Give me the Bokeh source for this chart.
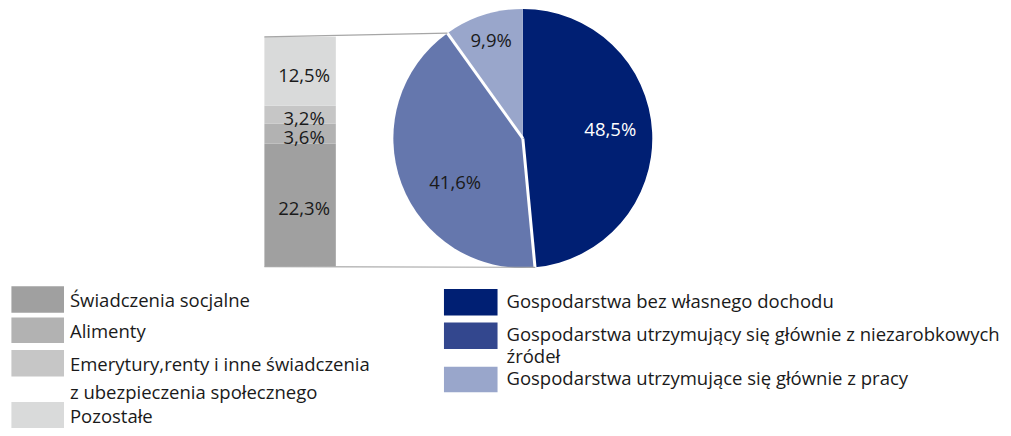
from bokeh.plotting import figure
from bokeh.models import Range1d
from bokeh.embed import file_html
from bokeh.resources import INLINE
from bokeh.core.properties import value
import numpy as np

# ---------------- data ----------------
pie_labels = ["Gospodarstwa bez własnego dochodu",
              "Gospodarstwa utrzymujący się głównie z niezarobkowych\nźródeł",
              "Gospodarstwa utrzymujące się głównie z pracy"]
pie_values = [48.5, 41.6, 9.9]

bar_labels = ["Świadczenia socjalne",
              "Alimenty",
              "Emerytury,renty i inne świadczenia\nz ubezpieczenia społecznego",
              "Pozostałe"]
bar_values = [22.3, 3.6, 3.2, 12.5]

# ---------------- style ----------------
pie_colors = ["#001F73", "#6577AD", "#99A6CB"]
pie_legend_colors = ["#001F73", "#33478E", "#99A6CB"]
pie_label_colors = ["white", "#1a1a1a", "#1a1a1a"]
pie_label_radius = [0.68, 0.62, 0.80]
pie_label_shift_deg = [4, 12, 0]
bar_colors = ["#A0A0A0", "#B2B2B2", "#C6C6C6", "#D9DADA"]
FONT = "Open Sans"
FS = "18.5px"

W, H = 1003, 428
XU, YU = 1011, 436  # layout units (reference pixel grid)
xs, ys = W / XU, H / YU


def Y(page_y):
    return YU - page_y


p = figure(width=W, height=H, output_backend="svg", toolbar_location=None,
           x_range=Range1d(0, XU), y_range=Range1d(0, YU),
           min_border=0, outline_line_color=None)
p.axis.visible = False
p.grid.visible = False

# ---------------- pie ----------------
cx, cy, R = 526.5, Y(140.5), 130.5
Ry = R * xs / ys  # same screen radius in y units
total = sum(pie_values)
cum = np.concatenate([[0], np.cumsum(pie_values)])
frac = cum / total
starts = np.pi / 2 - 2 * np.pi * frac[:-1]
ends = np.pi / 2 - 2 * np.pi * frac[1:]
p.wedge(x=[cx] * 3, y=[cy] * 3, radius=R, start_angle=list(starts),
        end_angle=list(ends), direction="clock", fill_color=pie_colors,
        line_color=None)


def on_circle(a, f=1.0):
    return cx + f * R * np.cos(a), cy + f * Ry * np.sin(a)


# white separators around the split-out slice
sep = [on_circle(a) for a in (starts[1], ends[1])]
p.segment(x0=[cx, cx], y0=[cy, cy], x1=[s[0] for s in sep], y1=[s[1] for s in sep],
          line_color="white", line_width=3)

mids = (starts + ends) / 2 + np.radians(pie_label_shift_deg)
lpos = [on_circle(a, f) for a, f in zip(mids, pie_label_radius)]
p.text(x=[q[0] for q in lpos], y=[q[1] for q in lpos],
       text=[f"{v:.1f}%".replace(".", ",") for v in pie_values],
       text_color=pie_label_colors, text_align="center", text_baseline="middle",
       text_font=value(FONT), text_font_size=FS)

# ---------------- bar (breakdown of slice 2) ----------------
bx0, bx1 = 266, 338
b_bottom, b_top = Y(271), Y(37)
k = (b_top - b_bottom) / pie_values[1]
bcum = np.concatenate([[0], np.cumsum(bar_values)])
p.quad(left=bx0, right=bx1, bottom=list(b_bottom + k * bcum[:-1]),
       top=list(b_bottom + k * bcum[1:]), fill_color=bar_colors, line_color=None)
p.text(x=[(bx0 + bx1) / 2 + 4] * 4,
       y=list(b_bottom + k * (bcum[:-1] + bcum[1:]) / 2 - 3),
       text=[f"{v:.1f}%".replace(".", ",") for v in bar_values],
       text_color="#1a1a1a", text_align="center", text_baseline="middle",
       text_font=value(FONT), text_font_size=FS)

# connector lines
bar_top = b_bottom + k * bcum[-1]
c_top, c_bot = on_circle(ends[1]), on_circle(starts[1])
p.segment(x0=[bx0, bx0], y0=[bar_top, b_bottom],
          x1=[c_top[0], c_bot[0]], y1=[c_top[1], c_bot[1]],
          line_color="#A6A6A6", line_width=1.2)

# ---------------- legends ----------------
left_rows = [(291, 318), (323, 349), (356, 383), (409, 436)]
p.quad(left=11, right=64, top=[Y(a) for a, b in left_rows],
       bottom=[Y(b) for a, b in left_rows], fill_color=bar_colors, line_color=None)
lt_x, lt_y, lt_t = [], [], []
for (a, b), lab in zip(left_rows, bar_labels):
    for i, line in enumerate(lab.split("\n")):
        lt_x.append(70)
        lt_y.append(Y((a + b) / 2 + i * 29))
        lt_t.append(line)
p.text(x=lt_x, y=lt_y, text=lt_t, text_color="#1a1a1a", text_align="left",
       text_baseline="middle", text_font=value(FONT), text_font_size=FS)

right_rows = [(294, 321), (328, 355), (373, 399)]
p.quad(left=447, right=501, top=[Y(a) for a, b in right_rows],
       bottom=[Y(b) for a, b in right_rows], fill_color=pie_legend_colors,
       line_color=None)
rt_x, rt_y, rt_t = [], [], []
for (a, b), lab in zip(right_rows, pie_labels):
    for i, line in enumerate(lab.split("\n")):
        rt_x.append(510)
        rt_y.append(Y((a + b) / 2 - 2 + i * 22))
        rt_t.append(line)
p.text(x=rt_x, y=rt_y, text=rt_t, text_color="#1a1a1a", text_align="left",
       text_baseline="middle", text_font=value(FONT), text_font_size=FS)

open("out.html", "w").write(file_html(p, INLINE))
